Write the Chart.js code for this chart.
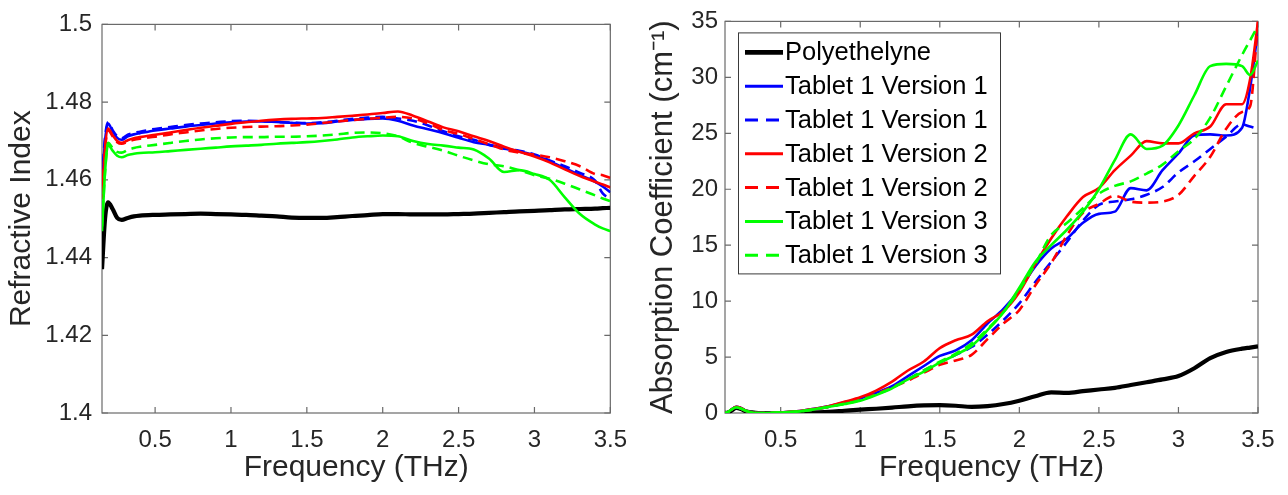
<!DOCTYPE html>
<html><head><meta charset="utf-8">
<script src="https://cdn.jsdelivr.net/npm/chart.js@4.4.0/dist/chart.umd.min.js"></script>
<style>
html,body{margin:0;padding:0;background:#fff;overflow:hidden}
#wrap{position:relative;width:1288px;height:495px;background:#fff}
#c1{position:absolute;left:0;top:0}
#c2{position:absolute;left:640px;top:0}
</style></head><body>
<div id="wrap"><canvas id="c1" width="640" height="495"></canvas><canvas id="c2" width="648" height="495"></canvas></div>
<script>
// ---------- data ----------
const freq = [0.15,0.17,0.19,0.22,0.25,0.28,0.32,0.36,0.4,
  0.5,0.6,0.7,0.8,0.9,1.0,1.1,1.2,1.3,1.4,
  1.5,1.6,1.7,1.8,1.9,2.0,2.1,2.2,2.3,2.4,
  2.5,2.6,2.7,2.8,2.9,3.0,3.1,3.2,3.3,3.4,
  3.45,3.5];

const seriesNames = ['Polyethelyne','Tablet 1 Version 1','Tablet 1 Version 1','Tablet 1 Version 2','Tablet 1 Version 2','Tablet 1 Version 3','Tablet 1 Version 3'];

// Refractive index
const riPoly = [1.437,1.450,1.4542,1.4525,1.4502,1.4497,1.4502,1.4506,1.4508,
  1.4510,1.4511,1.4512,1.4513,1.4512,1.4511,1.4510,1.4508,1.4506,1.4503,
  1.4502,1.4502,1.4504,1.4507,1.4509,1.4512,1.4512,1.4511,1.4511,1.4511,
  1.4512,1.4513,1.4515,1.4517,1.4519,1.4520,1.4522,1.4524,1.4525,1.4526,
  1.4527,1.4528];
const riT1V1 = [1.458,1.470,1.4745,1.4725,1.4708,1.4703,1.4712,1.4717,1.4720,
  1.4727,1.4732,1.4737,1.4741,1.4745,1.4748,1.4750,1.4750,1.4749,1.4747,
  1.4745,1.4746,1.4750,1.4754,1.4757,1.4758,1.4752,1.4740,1.4730,1.4720,
  1.4708,1.4697,1.4690,1.4682,1.4673,1.4663,1.4648,1.4630,1.4612,1.4595,
  1.4583,1.4568];
const riT1V1b = [1.460,1.471,1.4748,1.4728,1.4712,1.4707,1.4716,1.4721,1.4724,
  1.4731,1.4736,1.4741,1.4745,1.4748,1.4751,1.4752,1.4751,1.4749,1.4747,
  1.4746,1.4748,1.4752,1.4757,1.4760,1.4762,1.4758,1.4752,1.4740,1.4725,
  1.4712,1.4703,1.4690,1.4680,1.4675,1.4665,1.4650,1.4635,1.4618,1.4598,
  1.4565,1.4552];
const riT1V2 = [1.455,1.468,1.4732,1.4715,1.4700,1.4695,1.4702,1.4707,1.4710,
  1.4716,1.4722,1.4728,1.4734,1.4739,1.4744,1.4748,1.4752,1.4755,1.4757,
  1.4758,1.4759,1.4762,1.4765,1.4768,1.4772,1.4776,1.4765,1.4750,1.4735,
  1.4725,1.4712,1.4700,1.4685,1.4672,1.4660,1.4645,1.4627,1.4610,1.4595,
  1.4588,1.4580];
const riT1V2b = [1.456,1.468,1.4728,1.4712,1.4697,1.4693,1.4698,1.4703,1.4706,
  1.4711,1.4717,1.4722,1.4727,1.4731,1.4734,1.4736,1.4737,1.4738,1.4740,
  1.4742,1.4746,1.4750,1.4754,1.4757,1.4760,1.4762,1.4758,1.4745,1.4728,
  1.4718,1.4705,1.4692,1.4678,1.4670,1.4665,1.4658,1.4648,1.4635,1.4615,
  1.4612,1.4605];
const riT1V3 = [1.4468,1.462,1.4690,1.4675,1.4662,1.4658,1.4664,1.4667,1.4669,
  1.4671,1.4674,1.4677,1.4680,1.4683,1.4686,1.4688,1.4690,1.4693,1.4695,
  1.4697,1.4700,1.4704,1.4709,1.4712,1.4714,1.4712,1.4700,1.4692,1.4688,
  1.4683,1.4678,1.4655,1.4620,1.4625,1.4615,1.4600,1.4555,1.4512,1.4485,
  1.4475,1.4468];
const riT1V3b = [1.448,1.462,1.4695,1.4682,1.4672,1.4670,1.4677,1.4682,1.4685,
  1.4690,1.4695,1.4700,1.4704,1.4707,1.4709,1.4710,1.4710,1.4711,1.4711,
  1.4712,1.4714,1.4717,1.4721,1.4722,1.4720,1.4712,1.4695,1.4685,1.4675,
  1.4662,1.4650,1.4640,1.4635,1.4625,1.4612,1.4603,1.4590,1.4575,1.4560,
  1.4552,1.4545];

// Absorption coefficient (cm^-1)
const abPoly = [0,0.05,0.2,0.45,0.35,0.15,0.05,0,0,
  0,0,0.05,0.1,0.2,0.3,0.38,0.48,0.6,0.68,
  0.7,0.65,0.55,0.62,0.8,1.1,1.5,1.85,1.8,1.95,
  2.1,2.25,2.5,2.75,3.0,3.3,4.0,4.9,5.45,5.75,
  5.85,5.95];
const abT1V1 = [0,0.1,0.3,0.55,0.45,0.2,0.05,0,0,
  0.05,0.15,0.35,0.6,0.95,1.3,1.8,2.4,3.3,4.2,
  5.1,5.6,6.5,8.0,9.3,11.0,13.1,14.7,15.6,17.0,
  17.8,18.0,20.1,19.9,21.7,23.2,24.8,24.9,24.8,25.5,
  29.0,34.2];
const abT1V1b = [0,0.1,0.3,0.5,0.4,0.2,0.05,0,0,
  0.05,0.12,0.3,0.55,0.85,1.2,1.7,2.3,3.0,3.8,
  4.5,5.2,5.9,7.0,8.3,9.8,11.7,13.5,15.3,17.2,
  18.6,18.9,19.1,19.5,20.2,21.5,22.5,23.6,24.7,25.8,
  25.6,25.4];
const abT1V2 = [0,0.1,0.3,0.55,0.45,0.2,0.05,0,0,
  0.05,0.15,0.35,0.6,1.0,1.4,2.0,2.8,3.8,4.6,
  5.8,6.5,7.0,8.2,9.1,10.8,13.3,15.6,17.6,19.3,
  20.1,21.7,23.0,24.3,24.1,24.1,25.0,25.6,27.6,27.6,
  29.8,35];
const abT1V2b = [0,0.1,0.3,0.5,0.4,0.2,0.05,0,0,
  0.05,0.12,0.3,0.55,0.85,1.2,1.7,2.3,2.9,3.6,
  4.3,4.7,5.2,6.6,8.0,9.2,11.4,13.4,15.9,17.9,
  18.7,19.4,18.9,18.8,18.9,19.5,21.2,22.9,25.4,26.9,
  27.4,35];
const abT1V3 = [0,0.1,0.3,0.5,0.4,0.2,0.05,0,0,
  0.05,0.12,0.3,0.55,0.8,1.1,1.6,2.2,3.0,3.7,
  4.5,5.2,6.0,7.4,9.0,11.2,13.5,15.0,16.4,18.0,
  20.0,22.6,24.9,23.6,23.9,25.7,28.4,31.0,31.2,31.0,
  30.2,31.5];
const abT1V3b = [0,0.1,0.3,0.5,0.4,0.2,0.05,0,0,
  0.05,0.12,0.3,0.55,0.82,1.15,1.65,2.25,3.0,3.8,
  4.6,5.3,6.2,7.5,9.0,11.0,13.3,15.9,17.0,18.3,
  19.6,20.3,20.7,21.4,22.2,23.4,24.5,26.4,29.2,32.0,
  33.3,34.6];

const xTicks = [0.5,1,1.5,2,2.5,3,3.5];
const xTickLabels = ['0.5','1','1.5','2','2.5','3','3.5'];
const riTicks = [1.4,1.42,1.44,1.46,1.48,1.5];
const riTickLabels = ['1.4','1.42','1.44','1.46','1.48','1.5'];
const abTicks = [0,5,10,15,20,25,30,35];
const abTickLabels = ['0','5','10','15','20','25','30','35'];

// ---------- styling ----------
const FONT = '"Liberation Sans", Arial, Helvetica, sans-serif';
const TXT = '#262626';
const styles = [
  {color:'#000000', width:4.2, dash:[]},
  {color:'#0000ff', width:2.6, dash:[]},
  {color:'#0000ff', width:2.6, dash:[10,6]},
  {color:'#ff0000', width:2.6, dash:[]},
  {color:'#ff0000', width:2.6, dash:[10,6]},
  {color:'#00ff00', width:2.6, dash:[]},
  {color:'#00ff00', width:2.6, dash:[10,6]}
];
Chart.defaults.font.family = FONT;
Chart.defaults.color = TXT;

function buildDatasets(seriesList){
  return seriesList.map((vals,i)=>({
    label: seriesNames[i],
    data: freq.map((f,j)=>({x:f,y:vals[j]})),
    borderColor: styles[i].color,
    borderWidth: styles[i].width,
    borderDash: styles[i].dash,
    pointRadius: 0,
    fill: false,
    cubicInterpolationMode: 'monotone',
    order: seriesList.length - i
  }));
}

const framePlugin = {
  id:'frame',
  beforeDatasetsDraw(chart){
    const {ctx, chartArea:a, scales:{x,y}} = chart;
    ctx.save();
    ctx.strokeStyle = '#6a6a6a';
    ctx.lineWidth = 1.2;
    ctx.strokeRect(a.left, a.top, a.right-a.left, a.bottom-a.top);
    const L = 6;
    ctx.beginPath();
    x.ticks.forEach(t=>{const p=x.getPixelForValue(t.value);
      ctx.moveTo(p,a.bottom); ctx.lineTo(p,a.bottom-L);
      ctx.moveTo(p,a.top); ctx.lineTo(p,a.top+L);});
    y.ticks.forEach(t=>{const p=y.getPixelForValue(t.value);
      ctx.moveTo(a.left,p); ctx.lineTo(a.left+L,p);
      ctx.moveTo(a.right,p); ctx.lineTo(a.right-L,p);});
    ctx.stroke();
    ctx.restore();
  }
};

const boxLegend = {
  id:'boxLegend',
  afterDraw(chart){
    if (!chart.options.plugins.boxLegend || !chart.options.plugins.boxLegend.show) return;
    const {ctx, chartArea:a} = chart;
    const ds = chart.data.datasets;
    const x0 = a.left+13, y0 = a.top+11, w = 262, h = 241, rowH = 33.8;
    ctx.save();
    ctx.fillStyle = '#ffffff';
    ctx.fillRect(x0,y0,w,h);
    ctx.strokeStyle = '#3a3a3a';
    ctx.lineWidth = 1;
    ctx.strokeRect(x0+0.5,y0+0.5,w,h);
    ctx.font = '25.5px ' + FONT;
    ctx.textBaseline = 'middle';
    ctx.textAlign = 'left';
    ds.forEach((d,i)=>{
      const cy = y0 + 20 + i*rowH;
      ctx.beginPath();
      ctx.setLineDash(d.borderDash && d.borderDash.length ? [13,8] : []);
      ctx.strokeStyle = d.borderColor;
      ctx.lineWidth = d.borderWidth + 0.4;
      ctx.moveTo(x0+7, cy); ctx.lineTo(x0+45, cy);
      ctx.stroke();
      ctx.setLineDash([]);
      ctx.fillStyle = '#000';
      ctx.fillText(d.label, x0+47, cy+1);
    });
    ctx.restore();
  }
};

function makeChart(canvas, seriesList, yMin, yMax, yTicks, yLabels, yTitle, yTitleSize, yWidth, rightPad, yTitlePad, yTickPad, showLegend){
  return new Chart(canvas, {
    type:'line',
    data:{datasets: buildDatasets(seriesList)},
    options:{
      responsive:false,
      animation:false,
      devicePixelRatio:1,
      layout:{padding:{left:0, top:18, right:rightPad, bottom:0}},
      plugins:{legend:{display:false}, tooltip:{enabled:false}, boxLegend:{show:showLegend}},
      scales:{
        x:{type:'linear', min:0.15, max:3.5,
          afterBuildTicks:s=>{s.ticks = xTicks.map(v=>({value:v}));},
          ticks:{callback:(v,i)=>xTickLabels[i], font:{size:24}, color:TXT, padding:13, maxRotation:0, autoSkip:false},
          grid:{display:false, drawTicks:false}, border:{display:false},
          title:{display:true, text:'Frequency (THz)', font:{size:30}, color:TXT, padding:{top:0,bottom:9}},
          afterFit:s=>{s.height = 82;}
        },
        y:{type:'linear', min:yMin, max:yMax,
          afterBuildTicks:s=>{s.ticks = yTicks.map(v=>({value:v}));},
          ticks:{callback:(v,i)=>yLabels[i], font:{size:24}, color:TXT, padding:yTickPad, autoSkip:false},
          grid:{display:false, drawTicks:false}, border:{display:false},
          title:{display:true, text:yTitle, font:{size:yTitleSize}, color:TXT, padding:{top:yTitlePad,bottom:0}},
          afterFit:s=>{s.width = yWidth;}
        }
      }
    },
    plugins:[framePlugin, boxLegend]
  });
}

makeChart(document.getElementById('c1'),
  [riPoly,riT1V1,riT1V1b,riT1V2,riT1V2b,riT1V3,riT1V3b],
  1.4, 1.5, riTicks, riTickLabels, 'Refractive Index', 30, 102, 16, 4, 10, false);
makeChart(document.getElementById('c2'),
  [abPoly,abT1V1,abT1V1b,abT1V2,abT1V2b,abT1V3,abT1V3b],
  0, 35, abTicks, abTickLabels, 'Absorption Coefficient (cm\u207B\u00B9)', 31, 85, 30, 5, 7, true);
</script>
</body></html>
